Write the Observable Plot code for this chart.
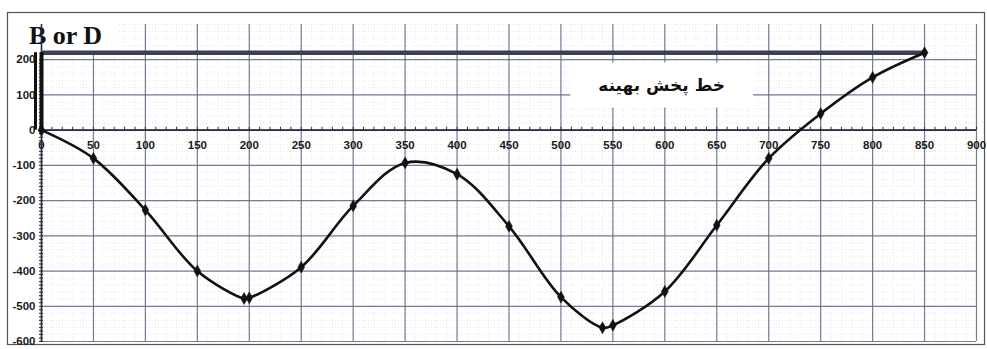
<!DOCTYPE html>
<html><head><meta charset="utf-8">
<script src="https://cdn.jsdelivr.net/npm/d3@7"></script>
<script src="https://cdn.jsdelivr.net/npm/@observablehq/plot@0.6"></script>
<style>
body{margin:0;background:#fff;}
#chart{width:987px;height:349px;}
</style></head><body><div id="chart"></div>
<script>
// ---- data ----
const distances = [0, 50, 100, 150, 195, 200, 250, 300, 350, 400, 450, 500, 540, 550, 600, 650, 700, 750, 800, 850];
const values    = [0, -80, -227, -400, -478, -476, -389, -215, -93, -125, -273, -474, -561, -554, -458, -270, -80, 47, 150, 220];
const optimalLevel = 220;
const xTicks = [0, 50, 100, 150, 200, 250, 300, 350, 400, 450, 500, 550, 600, 650, 700, 750, 800, 850, 900];
const yTicks = [200, 100, 0, -100, -200, -300, -400, -500, -600];
const xMinor = d3.range(0, 901, 10);
const yMinor = d3.range(-600, 201, 10);
const paperX = d3.range(0, 901, 10);
const paperY = d3.range(-600, 301, 20);
const titleLabel = "B or D";
const lineLabel = "خط پخش بهینه";

const points = distances.map((d, i) => ({x: d, y: values[i]}));
const lastX = distances[distances.length - 1];

const gridColor = "#5f6482";
const tickFont = {fontFamily: "Liberation Sans, Arial, sans-serif", fontWeight: "bold", fontSize: 11.5, fill: "#1a1a1a"};

const chart = Plot.plot({
  width: 987,
  height: 349,
  marginLeft: 41,
  marginRight: 11,
  marginTop: 24,
  marginBottom: 8,
  style: {background: "#fff", overflow: "visible"},
  x: {domain: [0, 900], axis: null},
  y: {domain: [-600, 300], axis: null},
  marks: [
    // graph paper texture
    Plot.gridX(paperX, {stroke: "#b4b9d6", strokeOpacity: 0.35, strokeDasharray: "1,2"}),
    Plot.gridY(paperY, {stroke: "#b4b9d6", strokeOpacity: 0.35, strokeDasharray: "1,2"}),
    // major grid
    Plot.gridX(xTicks, {stroke: gridColor, strokeOpacity: 0.85, strokeWidth: 1.2}),
    Plot.gridY(yTicks, {stroke: gridColor, strokeOpacity: 0.85, strokeWidth: 1.2}),
    // labels (white boxes are added behind them below)
    Plot.text([titleLabel], {frameAnchor: "top-left", dx: 24, dy: 11, textAnchor: "middle", lineAnchor: "middle", text: d => d,
      fontFamily: "Liberation Serif, Times New Roman, serif", fontWeight: "bold", fontSize: 26, fill: "#111"}),
    Plot.text([lineLabel], {x: 597, y: 128, text: d => d,
      fontFamily: "DejaVu Sans, sans-serif", fontWeight: "bold", fontSize: 17, fill: "#111"}),
    // outer border
    Plot.frame({insetLeft: -34, insetTop: -12, insetRight: -8, insetBottom: -3, stroke: "#555", strokeWidth: 1.2}),
    // x axis at y = 0
    Plot.ruleY([0], {stroke: "#2a2a3a", strokeWidth: 1.6}),
    Plot.ruleX(xMinor, {x: d => d, y1: 0, y2: 8, stroke: "#2a2a3a", strokeWidth: 1}),
    Plot.text(xTicks, {x: d => d, y: 0, dy: 15, text: d => String(d), ...tickFont}),
    // y axis
    Plot.ruleX([0], {stroke: "#2a2a3a", strokeWidth: 1.6}),
    Plot.ruleY(yMinor, {y: d => d, x1: -2, x2: 2, stroke: "#2a2a3a", strokeWidth: 1}),
    Plot.axisY(yTicks, {anchor: "left", tickSize: 0, tickPadding: 6, label: null, tickFormat: d => String(d), ...tickFont}),
    // optimal line and B/D marker
    Plot.ruleY([optimalLevel], {x1: 0, x2: lastX, stroke: "#3c3f55", strokeWidth: 4.5}),
    Plot.ruleX([0], {y1: 0, y2: optimalLevel, stroke: "#111", strokeWidth: 4}),
    Plot.ruleX([0], {y1: 0, y2: optimalLevel, dx: -6, stroke: "#111", strokeWidth: 3}),
    // profile curve
    Plot.line(points, {x: "x", y: "y", curve: "catmull-rom", stroke: "#111", strokeWidth: 2.6}),
    Plot.dot(points, {x: "x", y: "y", symbol: "diamond", r: 3.6, fill: "#111", stroke: "#111", strokeWidth: 0.5})
  ]
});
document.getElementById("chart").append(chart);

// white boxes behind the labels
const pads = new Map([[titleLabel, [22, 17, 10, 5]], [lineLabel, [28, 28, 12, 12]]]);
Array.from(chart.querySelectorAll("text")).forEach(t => {
  const pad = pads.get(t.textContent.trim());
  if (!pad) return;
  const [pl, pr, pt, pb] = pad;
  const b = t.getBBox();
  const r = document.createElementNS("http://www.w3.org/2000/svg", "rect");
  r.setAttribute("x", b.x - pl);
  r.setAttribute("y", b.y - pt);
  r.setAttribute("width", b.width + pl + pr);
  r.setAttribute("height", b.height + pt + pb);
  r.setAttribute("fill", "#ffffff");
  const tr = t.getAttribute("transform");
  if (tr) r.setAttribute("transform", tr);
  t.parentNode.insertBefore(r, t);
});
</script>
</body></html>
